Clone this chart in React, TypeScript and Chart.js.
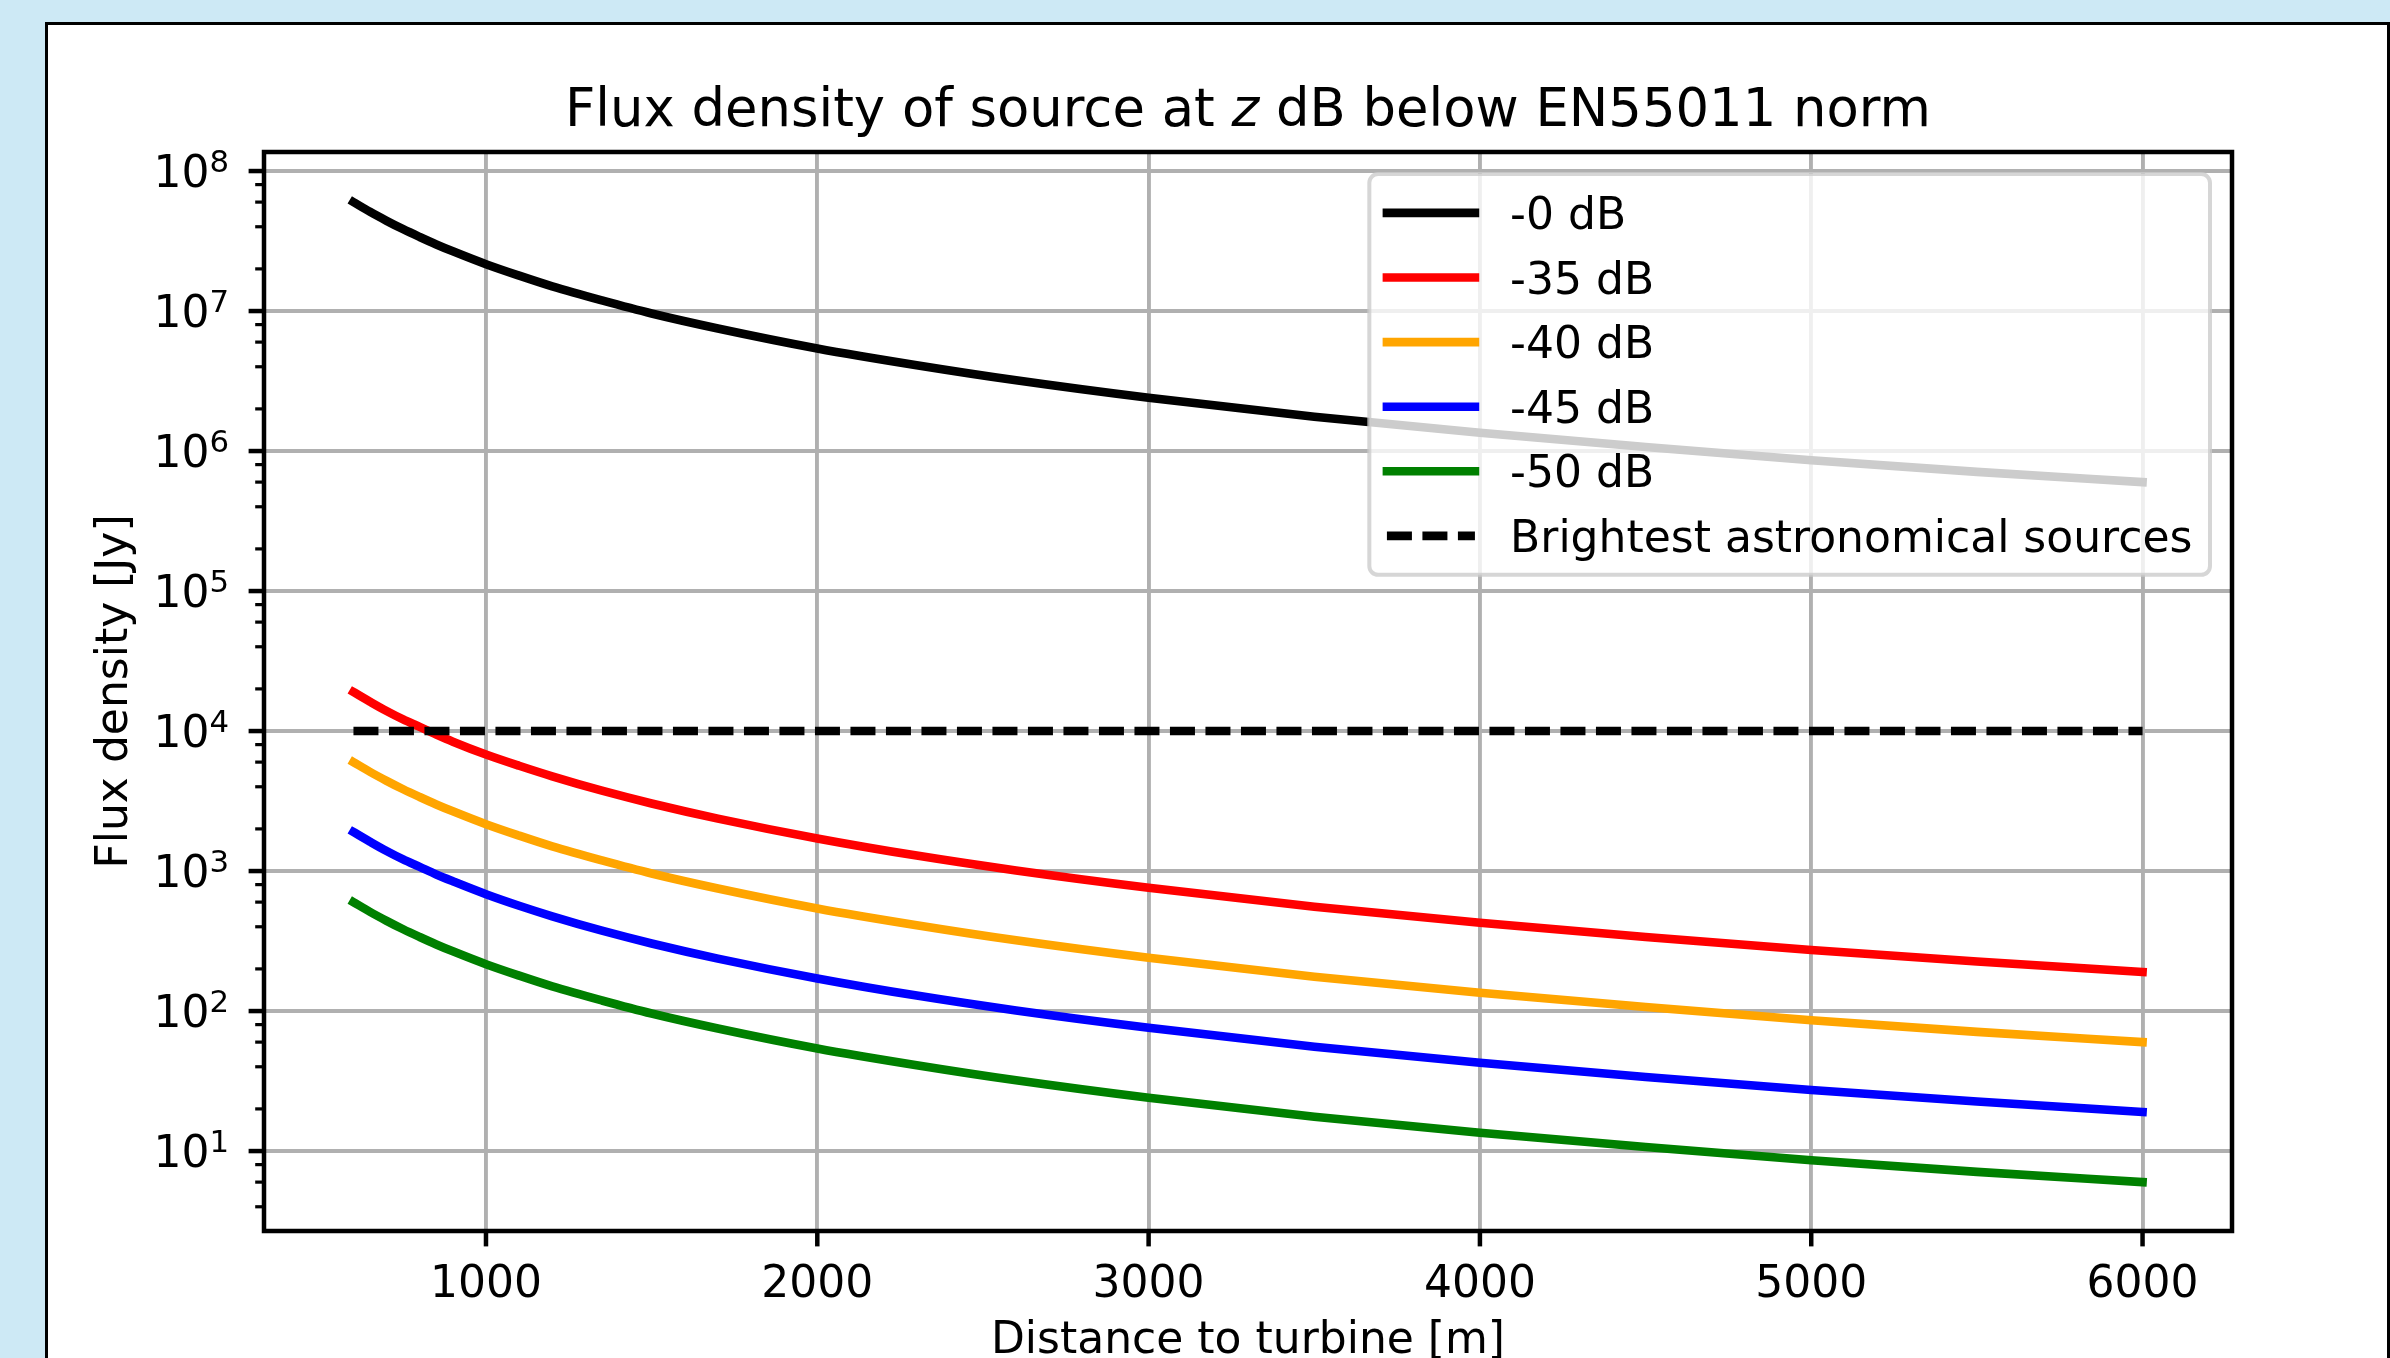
import React, { useEffect, useRef } from 'react';
import { Chart, registerables } from 'chart.js';

Chart.register(...registerables);

// ---- data ----
const distances = [600, 650, 700, 750, 800, 850, 900, 1000, 1100, 1200, 1350, 1500, 1700, 2000, 2300, 2600, 3000, 3500, 4000, 4500, 5000, 5500, 6000];
const flux0dB = [6.0e7, 5.11e7, 4.41e7, 3.84e7, 3.38e7, 2.99e7, 2.67e7, 2.16e7, 1.79e7, 1.5e7, 1.19e7, 9.6e6, 7.5e6, 5.4e6, 4.1e6, 3.2e6, 2.4e6, 1.76e6, 1.35e6, 1.07e6, 8.6e5, 7.1e5, 6.0e5];
const flux35dB = [1.9e4, 1.62e4, 1.39e4, 1.21e4, 1.07e4, 9.45e3, 8.4e3, 6.8e3, 5.65e3, 4.75e3, 3.75e3, 3.04e3, 2.37e3, 1.71e3, 1.29e3, 1.01e3, 760, 556, 427, 338, 273, 226, 190];
const flux40dB = [6.0e3, 5.11e3, 4.41e3, 3.84e3, 3.38e3, 2.99e3, 2.67e3, 2.16e3, 1.79e3, 1.5e3, 1.19e3, 960, 750, 540, 410, 320, 240, 176, 135, 107, 86, 71, 60];
const flux45dB = [1.9e3, 1.62e3, 1.39e3, 1.21e3, 1.07e3, 945, 845, 683, 565, 475, 375, 304, 237, 171, 129, 101, 76, 55.6, 42.7, 33.8, 27.3, 22.6, 19];
const flux50dB = [600, 511, 441, 384, 338, 299, 267, 216, 179, 150, 119, 96, 75, 54, 41, 32, 24, 17.6, 13.5, 10.7, 8.6, 7.1, 6.0];
const brightestX = [600, 6000];
const brightestY = [1e4, 1e4];

const seriesLabels = ['-0 dB', '-35 dB', '-40 dB', '-45 dB', '-50 dB', 'Brightest astronomical sources'];
const seriesColors = ['#000000', '#ff0000', '#ffa500', '#0000ff', '#008000', '#000000'];

const xTicks = [1000, 2000, 3000, 4000, 5000, 6000];
const yTickExponents = [1, 2, 3, 4, 5, 6, 7, 8];
const yMinorMantissas = [2, 4, 6, 8];

const titleBefore = 'Flux density of source at ';
const titleItalic = 'z';
const titleAfter = ' dB below EN55011 norm';
const xAxisTitle = 'Distance to turbine [m]';
const yAxisTitle = 'Flux density [Jy]';

const X_MIN = 330;
const X_MAX = 6270;
const Y_MIN = Math.pow(10, 0.429);
const Y_MAX = Math.pow(10, 8.136);

const FONT = '"DejaVu Sans", sans-serif';
const FS = 44;
const PT = FS / 10;
const LINE_W = 8.6;
const SPINE_W = 4.5;
const GRID_W = 3.9;
const DASH = [25, 10.5];

function line(ctx: CanvasRenderingContext2D, x1: number, y1: number, x2: number, y2: number) {
  ctx.beginPath();
  ctx.moveTo(x1, y1);
  ctx.lineTo(x2, y2);
  ctx.stroke();
}

const decorPlugin = {
  id: 'decor',
  afterDraw(chart: any) {
    const ctx: CanvasRenderingContext2D = chart.ctx;
    const a = chart.chartArea;
    const xs = chart.scales.x;
    const ys = chart.scales.y;
    ctx.save();

    // spines
    ctx.strokeStyle = '#000';
    ctx.lineWidth = SPINE_W;
    ctx.lineJoin = 'miter';
    ctx.strokeRect(a.left, a.top, a.right - a.left, a.bottom - a.top);

    // x ticks + labels
    ctx.lineCap = 'butt';
    ctx.fillStyle = '#000';
    ctx.font = `${FS}px ${FONT}`;
    ctx.textAlign = 'center';
    ctx.textBaseline = 'alphabetic';
    xTicks.forEach((v) => {
      const px = xs.getPixelForValue(v);
      ctx.lineWidth = SPINE_W;
      line(ctx, px, a.bottom, px, a.bottom + 3.5 * PT);
      ctx.fillText(String(v), px, a.bottom + 65.5);
    });

    // y minor ticks
    ctx.lineWidth = 3.2;
    for (let e = 0; e <= 8; e++) {
      yMinorMantissas.forEach((m) => {
        const v = m * Math.pow(10, e);
        if (v > ys.min && v < ys.max) {
          const py = ys.getPixelForValue(v);
          line(ctx, a.left - 2 * PT, py, a.left, py);
        }
      });
    }

    // y major ticks + labels (10^n)
    const supFs = FS * 0.7;
    yTickExponents.forEach((e) => {
      const py = ys.getPixelForValue(Math.pow(10, e));
      ctx.lineWidth = SPINE_W;
      line(ctx, a.left - 3.5 * PT, py, a.left, py);
      ctx.textAlign = 'left';
      ctx.font = `${FS}px ${FONT}`;
      const w10 = ctx.measureText('10').width;
      ctx.font = `${supFs}px ${FONT}`;
      const wsup = ctx.measureText(String(e)).width;
      const x0 = a.left - 35 - w10 - wsup;
      ctx.font = `${FS}px ${FONT}`;
      ctx.fillText('10', x0, py + 16);
      ctx.font = `${supFs}px ${FONT}`;
      ctx.fillText(String(e), x0 + w10, py + 16 - 15);
    });

    // axis titles
    ctx.font = `${FS}px ${FONT}`;
    ctx.textAlign = 'center';
    ctx.fillText(xAxisTitle, (a.left + a.right) / 2, a.bottom + 122);
    ctx.save();
    ctx.translate(127, (a.top + a.bottom) / 2);
    ctx.rotate(-Math.PI / 2);
    ctx.fillText(yAxisTitle, 0, 0);
    ctx.restore();

    // title with italic z
    const tfs = FS * 1.2;
    ctx.textAlign = 'left';
    ctx.font = `${tfs}px ${FONT}`;
    const w1 = ctx.measureText(titleBefore).width;
    const w3 = ctx.measureText(titleAfter).width;
    ctx.font = `italic ${tfs}px ${FONT}`;
    const w2 = ctx.measureText(titleItalic).width;
    const tx = (a.left + a.right) / 2 - (w1 + w2 + w3) / 2;
    const ty = a.top - 6 * PT;
    ctx.font = `${tfs}px ${FONT}`;
    ctx.fillText(titleBefore, tx, ty);
    ctx.font = `italic ${tfs}px ${FONT}`;
    ctx.fillText(titleItalic, tx + w1, ty);
    ctx.font = `${tfs}px ${FONT}`;
    ctx.fillText(titleAfter, tx + w1 + w2, ty);

    // legend
    ctx.font = `${FS}px ${FONT}`;
    const maxW = Math.max(...seriesLabels.map((s) => ctx.measureText(s).width));
    const pad = 0.4 * FS;
    const handleLen = 2.0 * FS;
    const handlePad = 0.8 * FS;
    const rowH = 42.6;
    const rowGap = 0.5 * FS;
    const boxW = pad + handleLen + handlePad + maxW + pad;
    const boxH = 2 * pad + seriesLabels.length * rowH + (seriesLabels.length - 1) * rowGap;
    const right = a.right - 0.5 * FS;
    const top = a.top + 0.5 * FS;
    const left = right - boxW;
    const r = 0.2 * FS;
    ctx.beginPath();
    ctx.moveTo(left + r, top);
    ctx.lineTo(right - r, top);
    ctx.arcTo(right, top, right, top + r, r);
    ctx.lineTo(right, top + boxH - r);
    ctx.arcTo(right, top + boxH, right - r, top + boxH, r);
    ctx.lineTo(left + r, top + boxH);
    ctx.arcTo(left, top + boxH, left, top + boxH - r, r);
    ctx.lineTo(left, top + r);
    ctx.arcTo(left, top, left + r, top, r);
    ctx.closePath();
    ctx.fillStyle = 'rgba(255,255,255,0.8)';
    ctx.fill();
    ctx.strokeStyle = 'rgba(204,204,204,0.8)';
    ctx.lineWidth = 4;
    ctx.stroke();

    seriesLabels.forEach((label, i) => {
      const cy = top + pad + rowH / 2 + i * (rowH + rowGap);
      const hx = left + pad;
      ctx.strokeStyle = seriesColors[i];
      ctx.lineWidth = LINE_W;
      if (i === seriesLabels.length - 1) {
        ctx.setLineDash(DASH);
        ctx.lineCap = 'butt';
      } else {
        ctx.setLineDash([]);
        ctx.lineCap = 'square';
      }
      line(ctx, hx, cy, hx + handleLen, cy);
      ctx.setLineDash([]);
      ctx.fillStyle = '#000';
      ctx.textAlign = 'left';
      ctx.font = `${FS}px ${FONT}`;
      ctx.fillText(label, hx + handleLen + handlePad, cy + 16);
    });

    ctx.restore();
  },
};

export default function App() {
  const ref = useRef<HTMLCanvasElement>(null);

  useEffect(() => {
    const canvas = ref.current;
    if (!canvas) return;
    const pts = (ys: number[]) => distances.map((x, i) => ({ x, y: ys[i] }));
    const solid = (i: number, ys: number[], order: number) => ({
      label: seriesLabels[i],
      data: pts(ys),
      borderColor: seriesColors[i],
      backgroundColor: seriesColors[i],
      borderWidth: LINE_W,
      pointRadius: 0,
      fill: false,
      cubicInterpolationMode: 'monotone' as const,
      borderCapStyle: 'square' as const,
      borderJoinStyle: 'round' as const,
      order,
    });
    const chart = new Chart(canvas, {
      type: 'line',
      data: {
        datasets: [
          solid(0, flux0dB, 5),
          solid(1, flux35dB, 4),
          solid(2, flux40dB, 3),
          solid(3, flux45dB, 2),
          solid(4, flux50dB, 1),
          {
            label: seriesLabels[5],
            data: brightestX.map((x, i) => ({ x, y: brightestY[i] })),
            borderColor: seriesColors[5],
            backgroundColor: seriesColors[5],
            borderWidth: LINE_W,
            borderDash: DASH,
            borderCapStyle: 'butt',
            pointRadius: 0,
            fill: false,
            order: 0,
          } as any,
        ],
      },
      options: {
        responsive: false,
        animation: false,
        devicePixelRatio: 1,
        events: [],
        layout: { padding: { left: 264, top: 152, right: 2390 - 2232, bottom: 1358 - 1231 } },
        plugins: {
          legend: { display: false },
          title: { display: false },
          tooltip: { enabled: false },
        },
        scales: {
          x: {
            type: 'linear',
            min: X_MIN,
            max: X_MAX,
            ticks: { display: false },
            border: { display: false },
            grid: { color: '#b0b0b0', lineWidth: GRID_W, drawTicks: false },
            afterBuildTicks: (s: any) => {
              s.ticks = xTicks.map((v) => ({ value: v }));
            },
            afterFit: (s: any) => {
              s.height = 0;
            },
          },
          y: {
            type: 'logarithmic',
            min: Y_MIN,
            max: Y_MAX,
            ticks: { display: false },
            border: { display: false },
            grid: { color: '#b0b0b0', lineWidth: GRID_W, drawTicks: false },
            afterBuildTicks: (s: any) => {
              s.ticks = yTickExponents.map((e) => ({ value: Math.pow(10, e) }));
            },
            afterFit: (s: any) => {
              s.width = 0;
            },
          },
        },
      } as any,
      plugins: [decorPlugin],
    });
    return () => chart.destroy();
  }, []);

  return (
    <div
      style={{
        position: 'fixed',
        left: 0,
        top: 0,
        width: 2390,
        height: 1358,
        background: '#cde9f5',
        overflow: 'hidden',
      }}
    >
      <div
        style={{
          position: 'absolute',
          left: 45,
          top: 22,
          width: 2345,
          height: 1400,
          background: '#ffffff',
          border: '3px solid #000',
          boxSizing: 'border-box',
        }}
      />
      <canvas
        ref={ref}
        width={2390}
        height={1358}
        style={{ position: 'absolute', left: 0, top: 0, width: 2390, height: 1358 }}
      />
    </div>
  );
}
